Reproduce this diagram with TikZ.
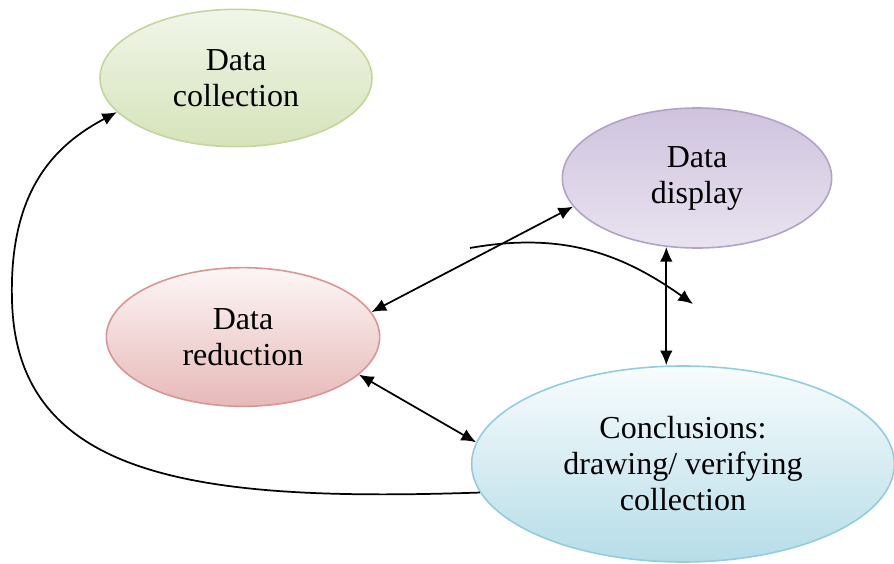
\documentclass[tikz,border=0pt]{standalone}
\usepackage{fontspec}
\setmainfont{Liberation Serif}
\usepackage{tikz}
\usetikzlibrary{shapes.geometric,arrows.meta,positioning}
\usepackage{xcolor}
\definecolor{greenline}{HTML}{C3D69B}
\definecolor{greentop}{HTML}{F1F6E9}
\definecolor{greenbot}{HTML}{D5E3BA}
\definecolor{purpleline}{HTML}{B3A2C7}
\definecolor{purpletop}{HTML}{CFC3DE}
\definecolor{purplebot}{HTML}{E9E3F0}
\definecolor{redline}{HTML}{D99694}
\definecolor{redtop}{HTML}{FDF6F6}
\definecolor{redbot}{HTML}{E6B9B8}
\definecolor{blueline}{HTML}{93CDDD}
\definecolor{bluetop}{HTML}{F8FCFD}
\definecolor{bluebot}{HTML}{B6DDE8}

\begin{document}
\begin{tikzpicture}[
    x=0.75pt, y=-0.75pt,
    every node/.style={font=\rmfamily\fontsize{24}{27}\selectfont},
    stage/.style={ellipse, line width=1.2pt, align=center, inner sep=0pt},
    arrow/.style={-{Latex[length=11pt,width=9.5pt]}, line width=1.3pt},
    twoway/.style={{Latex[length=11pt,width=9.5pt]}-{Latex[length=11pt,width=9.5pt]}, line width=1.3pt}
]
    \useasboundingbox (0,0) rectangle (894,564);

    % Stages
    \node[stage, draw=greenline, top color=greentop, bottom color=greenbot,
          minimum width=204pt, minimum height=103pt] (collection) at (236,78) {Data\\collection};
    \node[stage, draw=purpleline, top color=purpletop, bottom color=purplebot,
          minimum width=202pt, minimum height=105pt] (display) at (697,178) {Data\\display};
    \node[stage, draw=redline, top color=redtop, bottom color=redbot,
          minimum width=205pt, minimum height=104pt] (reduction) at (243,337) {Data\\reduction};
    \node[stage, draw=blueline, top color=bluetop, bottom color=bluebot,
          minimum width=317pt, minimum height=147pt] (conclusions) at (683,464) {Conclusions:\\drawing/ verifying\\collection};

    % Two-way links
    \draw[twoway] (reduction.11) -- (display.193);
    \draw[twoway] (reduction.-18) -- (conclusions.174);
    \draw[twoway] (display.246) -- (display.246 |- conclusions.north);

    % Loose curved arrow
    \coordinate (loopstart) at (470,248);
    \coordinate (loopend) at (693,304);
    \draw[arrow] (loopstart) .. controls (560,232) and (620,252) .. (loopend);

    % Back to data collection
    \draw[arrow] (conclusions.188) .. controls (200,502) and (16,480) .. (12,300)
        .. controls (9,190) and (55,145) .. (collection.196);
\end{tikzpicture}
\end{document}
